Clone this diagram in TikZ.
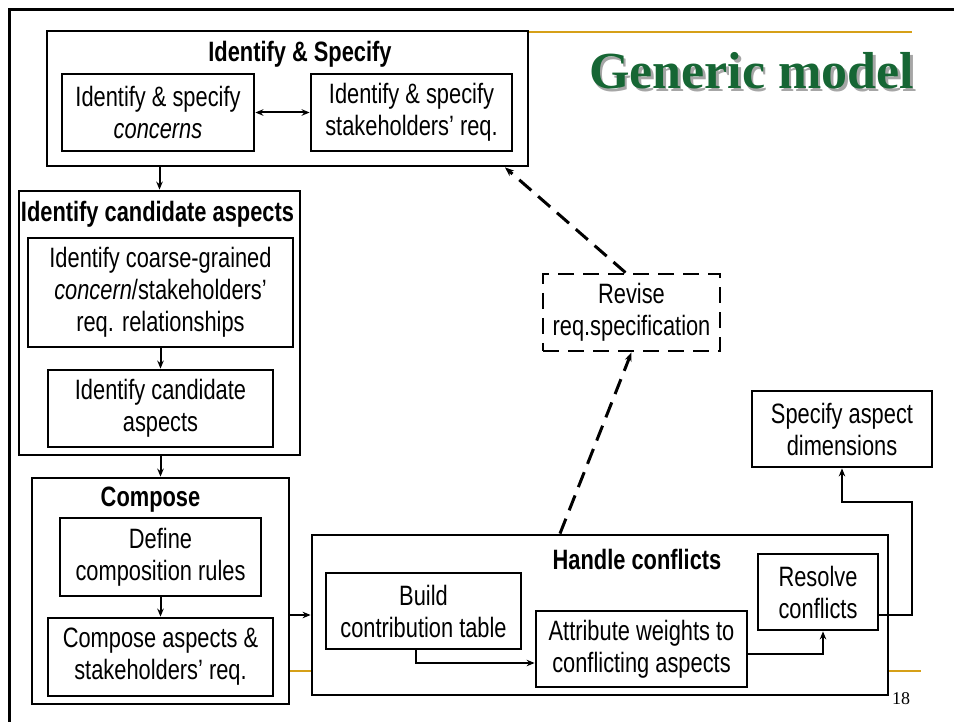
\documentclass[tikz,border=0pt]{standalone}
\usepackage{fontspec}
\setmainfont{Liberation Sans}[FakeStretch=0.78]
\newfontfamily\slidefont{Liberation Serif}
\usetikzlibrary{arrows.meta}
\definecolor{slidegreen}{RGB}{22,102,52}
\definecolor{slidegold}{RGB}{214,160,24}
\newcommand{\shadowtext}[1]{\makebox[0pt][l]{\hspace{2.5pt}\raisebox{-2.5pt}{\color{black!35}#1}}#1}
\tikzset{
    stage/.style={draw, line width=2.8pt, fill=white, inner sep=0pt},
    task/.style={draw, line width=2.8pt, fill=white, align=center, inner sep=0pt,
        font=\fontsize{28}{32}\selectfont},
    stagename/.style={inner sep=0pt, font=\fontsize{28}{32}\selectfont\bfseries},
    link/.style={line width=2pt, -{Stealth[length=8pt,width=6.5pt]}},
    revlink/.style={line width=3pt, dash pattern=on 16pt off 9pt,
        -{Stealth[length=9pt,width=7pt]}}
}

\begin{document}
\begin{tikzpicture}[x=1pt,y=-1pt]
\useasboundingbox (0,0) rectangle (954,722);
\draw[line width=3pt] (9,722) -- (9,9.5) -- (954,9.5);
\draw[slidegold, line width=1.5pt] (289,32) -- (912,32);
\draw[slidegold, line width=1.5pt] (289,671) -- (921,671);

\node[anchor=base west, inner sep=0pt, text=slidegreen,
    font=\slidefont\bfseries\fontsize{52}{56}\selectfont] (title) at (589,89) {\shadowtext{Generic model}};

\node[stage, minimum width=481pt, minimum height=135pt] (is) at (287.5,98.5) {};
\node[stagename] (isname) at (300,54) {Identify \& Specify};
\node[task, minimum width=192pt, minimum height=77pt] (concerns) at (158,112.5)
    {Identify \& specify\\\textit{concerns}};
\node[task, minimum width=201pt, minimum height=77pt] (stakereq) at (411.5,112.5)
    {Identify \& specify\\stakeholders’ req.};

\node[stage, minimum width=281pt, minimum height=264pt] (ica) at (159.5,323) {};
\node[stagename] (icaname) at (157.5,214) {Identify candidate aspects};
\node[task, minimum width=265pt, minimum height=109pt] (coarse) at (160.5,292.5)
    {Identify coarse-grained\\\textit{concern}/stakeholders’\\req. relationships};
\node[task, minimum width=225pt, minimum height=77pt] (candidates) at (160.5,408.5)
    {Identify candidate\\aspects};

\node[stage, minimum width=257pt, minimum height=226pt] (compose) at (160.5,591) {};
\node[stagename] (composename) at (150.5,500) {Compose};
\node[task, minimum width=201pt, minimum height=78pt] (rules) at (160.5,557)
    {Define\\composition rules};
\node[task, minimum width=225pt, minimum height=78pt] (composeaspects) at (160.5,657)
    {Compose aspects \&\\stakeholders’ req.};

\node[stage, minimum width=576pt, minimum height=160pt] (conflicts) at (600,615) {};
\node[stagename] (conflictsname) at (637,559) {Handle conflicts};
\node[task, minimum width=195pt, minimum height=76pt] (table) at (423.5,611)
    {Build\\contribution table};
\node[task, minimum width=211pt, minimum height=76pt] (weights) at (641.5,649)
    {Attribute weights to\\conflicting aspects};
\node[task, minimum width=120pt, minimum height=76pt] (resolve) at (818,592)
    {Resolve\\conflicts};

\node[task, minimum width=180pt, minimum height=76pt] (dimensions) at (842,429)
    {Specify aspect\\dimensions};
\node[task, dash pattern=on 16pt off 9pt, minimum width=177pt, minimum height=77pt] (revise) at (631.5,312.5)
    {Revise\\req.specification};

\draw[link, {Stealth[length=8pt,width=6.5pt]}-{Stealth[length=8pt,width=6.5pt]}] (concerns) -- (stakereq);
\draw[link] (is.south -| ica.north) -- (ica.north);
\draw[link] (coarse) -- (candidates);
\draw[link] (ica.south -| compose.north) -- (compose.north);
\draw[link] (rules) -- (composeaspects);
\draw[link] (compose.east |- conflicts.west) -- (conflicts.west);
\draw[link] (table.south -| 416,0) |- ([yshift=-14pt]weights.west);
\draw[link] ([yshift=-5pt]weights.east) -| ([xshift=5pt]resolve.south);
\coordinate (bend) at (912,502);
\draw[link] ([yshift=-23pt]resolve.east) -| (bend) -| (dimensions.south);
\draw[revlink] (conflicts.north -| 560,0) -- (revise.south);
\draw[revlink] ([xshift=-6pt]revise.north) -- (is.south -| 505,0);

\node[anchor=base west, inner sep=0pt, font=\slidefont\fontsize{18}{20}\selectfont] (pageno) at (892,704) {18};
\end{tikzpicture}
\end{document}
